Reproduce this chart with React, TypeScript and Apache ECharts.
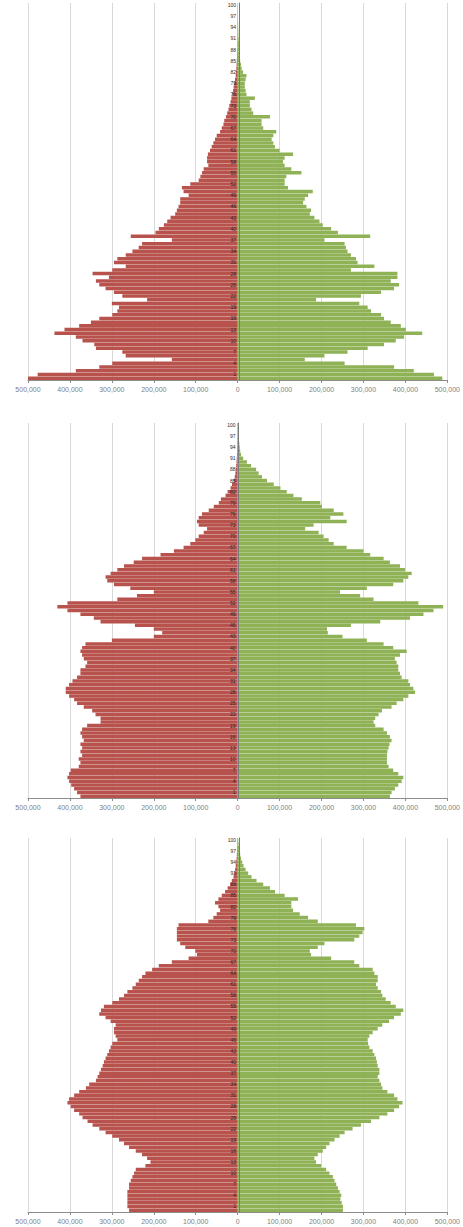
import React, { useEffect, useRef } from "react";
import * as echarts from "echarts";

// Ages 0..100 (single years). Values in thousands of people.
const ages: string[] = Array.from({ length: 101 }, (_, i) => String(i));

const xTicks = [-500, -400, -300, -200, -100, 0, 100, 200, 300, 400, 500];

const male1 = [
  500, 477, 386, 330, 299, 157, 267, 275, 338, 342,
  370, 386, 437, 413, 378, 350, 330, 299, 287, 283,
  300, 216, 275, 295, 315, 330, 338, 307, 346, 299,
  267, 295, 287, 267, 251, 236, 228, 157, 255, 196,
  188, 176, 168, 160, 149, 145, 141, 137, 137, 117,
  129, 133, 113, 93, 89, 85, 81, 70, 73, 73,
  71, 66, 62, 58, 54, 50, 42, 38, 34, 32,
  28, 25, 22, 20, 17, 15, 13, 11, 9.5, 8,
  6.3, 4.7, 4, 3.2, 2.5, 2, 1.6, 1.2, 0.9, 0.7,
  0.5, 0.4, 0.3, 0.2, 0.15, 0.1, 0.05, 0.05, 0.05, 0.05, 0.05,
];
const female1 = [
  488, 468, 420, 373, 255, 160, 207, 262, 310, 349,
  377, 397, 440, 401, 389, 365, 349, 342, 318, 310,
  290, 187, 294, 342, 373, 385, 365, 381, 381, 270,
  326, 286, 282, 270, 262, 258, 255, 207, 316, 239,
  223, 203, 195, 183, 172, 175, 164, 156, 160, 168,
  179, 120, 112, 112, 116, 152, 128, 112, 108, 112,
  132, 100, 89, 85, 81, 85, 92, 61, 57, 57,
  77, 37, 33, 29, 29, 41, 21, 19, 17, 17,
  19, 21, 13, 9.5, 8, 6, 5.5, 4.7, 4, 3.5,
  3, 2.5, 2, 1.7, 1.4, 1.1, 0.9, 0.7, 0.5, 0.4, 0.3,
];

const male2 = [
  375, 383, 390, 397, 402, 406, 402, 398, 379, 375,
  379, 371, 375, 371, 375, 367, 371, 375, 371, 359,
  327, 327, 339, 347, 367, 383, 390, 402, 410, 410,
  402, 394, 383, 375, 375, 363, 359, 367, 371, 375,
  371, 363, 300, 200, 180, 200, 245, 327, 343, 375,
  406, 430, 406, 287, 240, 200, 256, 295, 311, 315,
  303, 287, 271, 248, 228, 184, 152, 129, 113, 101,
  93, 81, 73, 93, 97, 93, 85, 69, 57, 45,
  40, 29, 24, 17, 13.5, 9.5, 7, 5.5, 4.5, 3.5,
  2.8, 2.2, 1.7, 1.3, 1, 0.7, 0.5, 0.35, 0.25, 0.15, 0.1,
];
const female2 = [
  363, 367, 375, 383, 391, 395, 383, 371, 360, 356,
  356, 356, 357, 360, 362, 367, 363, 356, 348, 328,
  324, 328, 336, 344, 367, 379, 395, 407, 423, 419,
  411, 407, 391, 387, 383, 383, 379, 375, 387, 403,
  371, 348, 308, 250, 215, 213, 270, 340, 411, 443,
  467, 490, 431, 324, 292, 244, 308, 371, 395, 407,
  415, 399, 387, 363, 348, 316, 300, 260, 229, 217,
  205, 193, 161, 181, 260, 221, 252, 229, 201, 197,
  153, 133, 117, 102, 86, 70, 58, 50, 44, 32,
  22, 13, 8, 6, 5, 4, 3, 2, 1.5, 1, 0.8,
];

const male3 = [
  259, 263, 263, 263, 263, 263, 259, 259, 255, 251,
  247, 243, 220, 208, 216, 228, 243, 259, 271, 283,
  299, 315, 330, 346, 358, 370, 378, 390, 398, 406,
  402, 390, 378, 362, 354, 338, 334, 330, 326, 322,
  319, 315, 311, 307, 303, 299, 287, 291, 295, 295,
  291, 303, 315, 330, 326, 319, 299, 283, 271, 263,
  251, 243, 236, 228, 220, 204, 188, 157, 117, 97,
  101, 125, 137, 145, 145, 145, 145, 141, 70, 58,
  50, 42, 46, 54, 46, 38, 30, 24, 18, 14,
  10, 8, 6, 4.7, 3.5, 2.6, 2, 1.5, 1, 0.7, 0.5,
];
const female3 = [
  251, 251, 248, 245, 247, 243, 239, 235, 231, 227,
  219, 211, 199, 187, 183, 191, 203, 211, 219, 231,
  243, 255, 274, 294, 318, 338, 357, 373, 385, 393,
  381, 373, 357, 345, 342, 338, 334, 338, 338, 334,
  332, 330, 326, 322, 314, 311, 310, 314, 322, 334,
  345, 361, 373, 389, 395, 377, 365, 353, 345, 342,
  334, 330, 334, 334, 326, 322, 290, 278, 223, 175,
  172, 191, 207, 278, 290, 298, 302, 282, 191, 168,
  148, 132, 128, 128, 144, 112, 89, 77, 61, 45,
  33, 25, 19, 14, 11, 8, 6, 4.5, 3.2, 2.2, 1.5,
];

const panels = [
  { male: male1, female: female1 },
  { male: male2, female: female2 },
  { male: male3, female: female3 },
];

const MALE_COLOR = "#B8524C";
const FEMALE_COLOR = "#8FB257";

export default function App() {
  const ref = useRef<HTMLDivElement>(null);

  useEffect(() => {
    document.body.style.margin = "0";
    if (!ref.current) return;
    const chart = echarts.init(ref.current, undefined, { renderer: "svg" });

    const grids = [
      { left: 28, top: 3, width: 422, height: 377 },
      { left: 28, top: 423, width: 421, height: 375 },
      { left: 28, top: 838, width: 422, height: 374 },
    ];

    const xAxes = grids.map((_, i) => ({
      type: "value",
      gridIndex: i,
      min: xTicks[0],
      max: xTicks[xTicks.length - 1],
      interval: xTicks[1] - xTicks[0],
      axisLine: { show: true, onZero: false, lineStyle: { color: "#8c8c8c", width: 1 } },
      axisTick: { show: true, length: 3, lineStyle: { color: "#8c8c8c" } },
      splitLine: { show: true, lineStyle: { color: "#d9d9d9", width: 1 } },
      axisLabel: {
        fontSize: 7,
        color: "#808080",
        margin: 6,
        fontFamily: "Liberation Sans, Arial, sans-serif",
        formatter: (v: number) => Math.abs(v * 1000).toLocaleString("en-US"),
      },
    }));

    // Category axis placed on the zero line of the value axis via a negative offset.
    const yAxes = grids.map((g, i) => ({
      type: "category",
      gridIndex: i,
      data: ages,
      position: "left",
      offset: -g.width / 2,
      axisLine: { show: true, onZero: false, lineStyle: { color: "#7a7a7a", width: 1 } },
      axisTick: { show: false },
      splitLine: { show: false },
      axisLabel: {
        fontSize: 5,
        color: "#2a2a2a",
        margin: 3,
        fontFamily: "Liberation Sans, Arial, sans-serif",
        interval: (index: number) => (100 - index) % 3 === 0,
      },
      z: 5,
    }));

    const series: any[] = [];
    panels.forEach((p, i) => {
      series.push({
        type: "bar",
        name: "Male",
        xAxisIndex: i,
        yAxisIndex: i,
        stack: "pyr" + i,
        barCategoryGap: "6%",
        itemStyle: { color: MALE_COLOR },
        data: p.male.map((v) => -v),
        silent: true,
      });
      series.push({
        type: "bar",
        name: "Female",
        xAxisIndex: i,
        yAxisIndex: i,
        stack: "pyr" + i,
        barCategoryGap: "6%",
        itemStyle: { color: FEMALE_COLOR },
        data: p.female,
        silent: true,
      });
    });

    chart.setOption({
      animation: false,
      backgroundColor: "#ffffff",
      grid: grids,
      xAxis: xAxes,
      yAxis: yAxes,
      series,
    });

    return () => chart.dispose();
  }, []);

  return (
    <div
      ref={ref}
      style={{ position: "fixed", left: 0, top: 0, width: 463, height: 1227, background: "#fff" }}
    />
  );
}
